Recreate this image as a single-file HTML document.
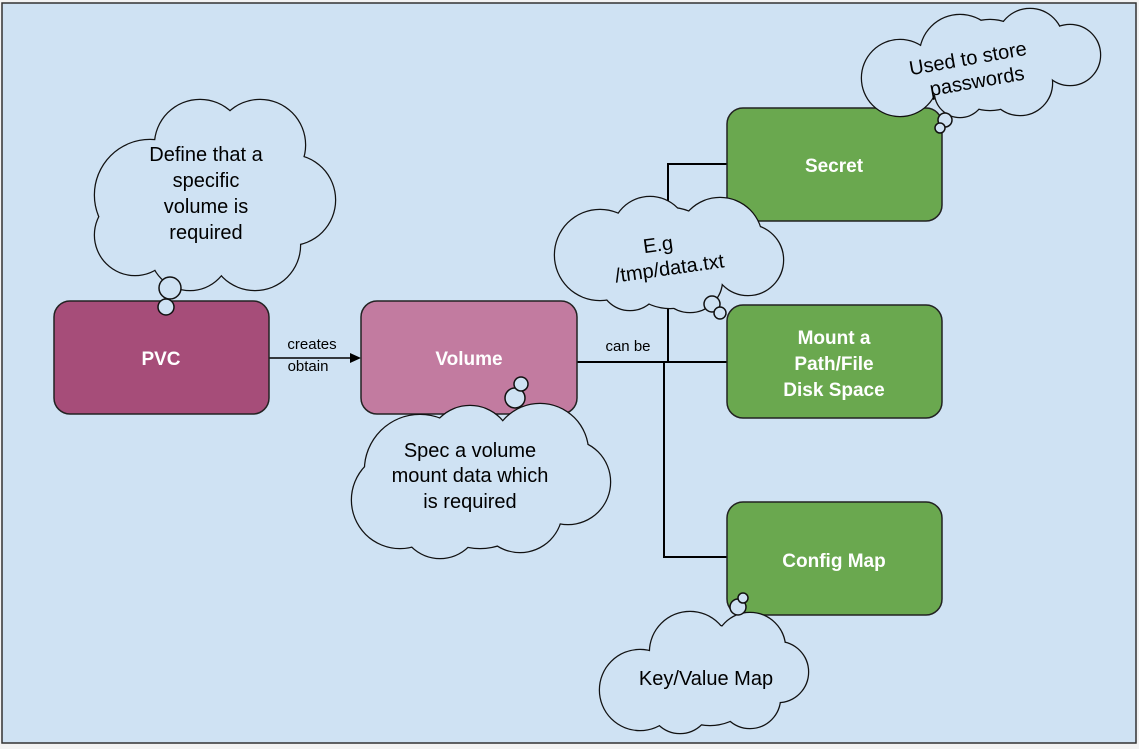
<!DOCTYPE html>
<html><head><meta charset="utf-8"><style>
html,body{margin:0;padding:0;background:#f3f3f3;}
svg{display:block;}
text{font-family:"Liberation Sans",Arial,sans-serif;}
</style></head><body>
<svg width="1139" height="749" viewBox="0 0 1139 749" xmlns="http://www.w3.org/2000/svg">
<rect x="2" y="3" width="1134" height="740" fill="#cfe2f3" stroke="#333" stroke-width="1.5"/>
<g stroke="#000" stroke-width="2" fill="none">
<line x1="269" y1="358" x2="352" y2="358" stroke-width="1.5"/>
<polyline points="577,362 728,362"/>
<polyline points="668,362 668,164 728,164"/>
<polyline points="664,362 664,557 728,557"/>
</g>
<polygon points="361,358 350,353 350,363" fill="#000"/>
<text x="312" y="349" font-size="15" text-anchor="middle">creates</text>
<text x="308" y="371" font-size="15" text-anchor="middle">obtain</text>
<text x="628" y="351" font-size="15" text-anchor="middle">can be</text>
<g stroke="#222" stroke-width="1.5">
<rect x="54" y="301" width="215" height="113" rx="16" fill="#a64d79"/>
<rect x="361" y="301" width="216" height="113" rx="16" fill="#c27ba0"/>
<rect x="727" y="108" width="215" height="113" rx="16" fill="#6aa84f"/>
<rect x="727" y="305" width="215" height="113" rx="16" fill="#6aa84f"/>
<rect x="727" y="502" width="215" height="113" rx="16" fill="#6aa84f"/>
</g>
<g fill="#fff" font-size="19" font-weight="bold" text-anchor="middle">
<text x="161" y="365">PVC</text>
<text x="469" y="365">Volume</text>
<text x="834" y="172">Secret</text>
<text x="834" y="344">Mount a</text>
<text x="834" y="370">Path/File</text>
<text x="834" y="396">Disk Space</text>
<text x="834" y="567">Config Map</text>
</g>
<g stroke="#111" stroke-width="2.5" fill="#cfe2f3">
<g id="c1"><circle cx="150" cy="195" r="55"/><circle cx="135" cy="235" r="40"/><circle cx="200" cy="145" r="45"/><circle cx="260" cy="145" r="45"/><circle cx="290" cy="200" r="45"/><circle cx="255" cy="245" r="45"/><circle cx="190" cy="250" r="40"/><circle cx="210" cy="200" r="70"/></g>
<g id="c2"><circle cx="420" cy="470" r="55"/><circle cx="470" cy="448" r="42"/><circle cx="540" cy="452" r="48"/><circle cx="568" cy="482" r="42"/><circle cx="520" cy="510" r="42"/><circle cx="440" cy="518" r="40"/><circle cx="400" cy="500" r="48"/><circle cx="480" cy="488" r="60"/></g>
<g id="c3"><circle cx="600" cy="255" r="45"/><circle cx="650" cy="235" r="38"/><circle cx="720" cy="240" r="42"/><circle cx="748" cy="260" r="35"/><circle cx="690" cy="280" r="32"/><circle cx="630" cy="280" r="30"/><circle cx="670" cy="258" r="50"/></g>
<g id="c4"><circle cx="900" cy="78" r="38"/><circle cx="960" cy="55" r="40"/><circle cx="1030" cy="42" r="33"/><circle cx="1070" cy="55" r="30"/><circle cx="1020" cy="83" r="32"/><circle cx="960" cy="92" r="25"/><circle cx="990" cy="65" r="45"/></g>
<g id="c5"><circle cx="640" cy="690" r="40"/><circle cx="690" cy="652" r="40"/><circle cx="750" cy="648" r="35"/><circle cx="778" cy="672" r="30"/><circle cx="750" cy="698" r="30"/><circle cx="680" cy="703" r="30"/><circle cx="710" cy="675" r="50"/></g>
</g>
<g fill="#cfe2f3" stroke="none">
<use href="#c1"/><use href="#c2"/><use href="#c3"/><use href="#c4"/><use href="#c5"/>
</g>
<g stroke="#111" stroke-width="1.5" fill="#cfe2f3">
<circle cx="170" cy="288" r="11"/><circle cx="166" cy="307" r="8"/>
<circle cx="515" cy="398" r="10"/><circle cx="521" cy="384" r="7"/>
<circle cx="712" cy="304" r="8"/><circle cx="720" cy="313" r="6"/>
<circle cx="945" cy="120" r="7"/><circle cx="940" cy="128" r="5"/>
<circle cx="738" cy="607" r="8"/><circle cx="743" cy="598" r="5"/>
</g>
<g fill="#000" font-size="20" text-anchor="middle">
<text x="206" y="161">Define that a</text>
<text x="206" y="187">specific</text>
<text x="206" y="213">volume is</text>
<text x="206" y="239">required</text>
<text x="470" y="457">Spec a volume</text>
<text x="470" y="482">mount data which</text>
<text x="470" y="508">is required</text>
<g transform="rotate(-8 668 258)"><text x="660" y="250">E.g</text><text x="668" y="275">/tmp/data.txt</text></g>
<g transform="rotate(-10 975 70)"><text x="970" y="64">Used to store</text><text x="975" y="88">passwords</text></g>
<text x="706" y="685">Key/Value Map</text>
</g>
</svg>
</body></html>
